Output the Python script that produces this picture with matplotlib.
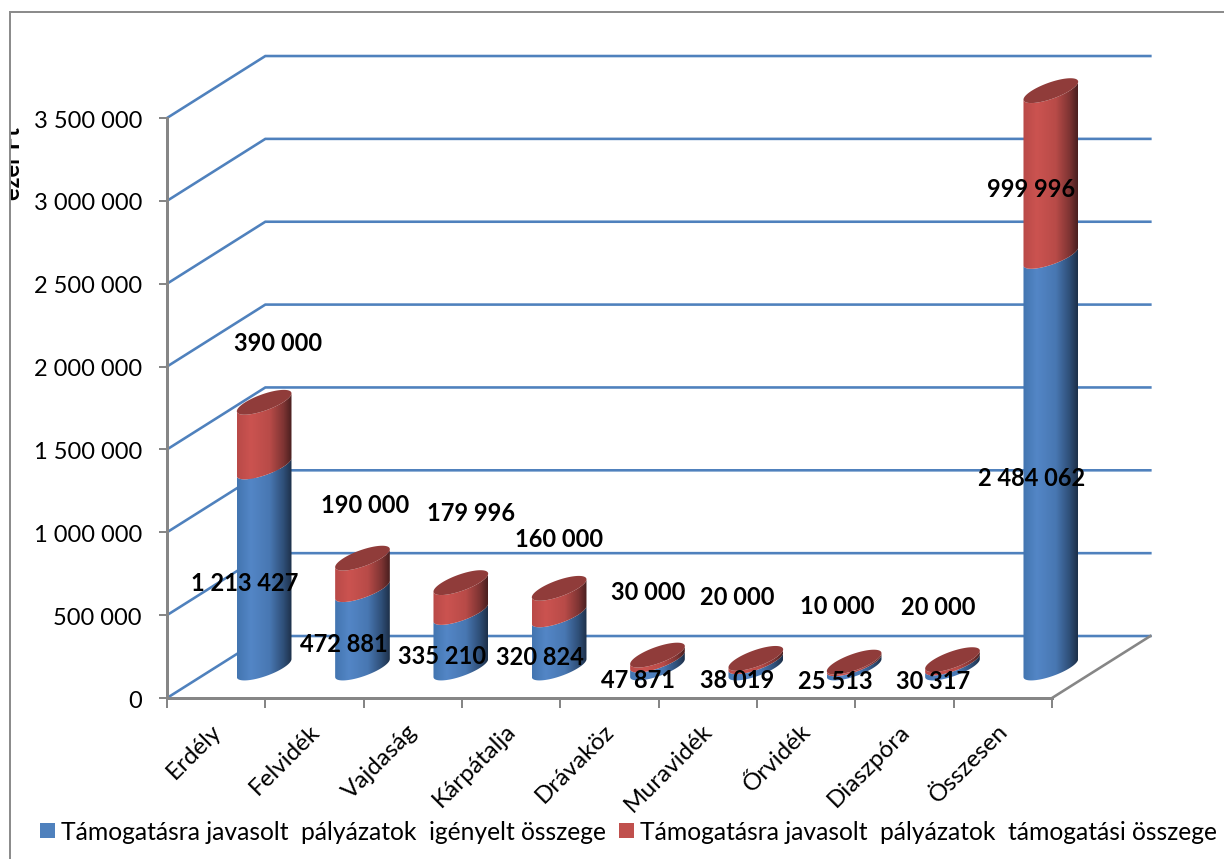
import numpy as np
import matplotlib
matplotlib.use("Agg")
import matplotlib.pyplot as plt
from matplotlib.colors import LinearSegmentedColormap
from matplotlib.lines import Line2D
from matplotlib.patches import Polygon, Patch
from matplotlib.ticker import FuncFormatter
from matplotlib.transforms import Bbox, ScaledTranslation

categories = ["Erdély", "Felvidék", "Vajdaság", "Kárpátalja", "Drávaköz",
              "Muravidék", "Őrvidék", "Diaszpóra", "Összesen"]
igenyelt = [1213427, 472881, 335210, 320824, 47871, 38019, 25513, 30317, 2484062]
tamogatasi = [390000, 190000, 179996, 160000, 30000, 20000, 10000, 20000, 999996]
yticks = [0, 500000, 1000000, 1500000, 2000000, 2500000, 3000000, 3500000]
series_names = ["Támogatásra javasolt  pályázatok  igényelt összege",
                "Támogatásra javasolt  pályázatok  támogatási összege"]

# label offsets (pixels) from the middle of each cylinder segment
blue_off = [(-19, -16)] * 9
red_off = [(14, 91), (3, 68), (10, 84), (0, 62), (-9, 65), (-19, 63), (-17, 56), (-14, 54), (-20, -16)]

FONT = "Lato"
W, H = 1224, 859
DPI = 100
PT = 72 / DPI
FS = 17.0
plt.rcParams["font.family"] = [FONT, "DejaVu Sans"]
GRID = "#4F81BD"
AXC = "#868686"

fig = plt.figure(figsize=(W / DPI, H / DPI), dpi=DPI, facecolor="white")
ax = fig.add_axes([167 / W, (H - 698) / H, 885 / W, 580 / H])
ax.patch.set_alpha(0)

YMAX = 3500000
DX, DY = 1.0, 374000            # depth of the pseudo-3D box
A = 0.278                       # cylinder half width (categories)
B, S = 52000, 54000             # ellipse half height and shear (value units)

for s in ("top", "right"):
    ax.spines[s].set_visible(False)
for s in ("left", "bottom"):
    ax.spines[s].set_color(AXC)
    ax.spines[s].set_linewidth(3.0 * PT)

for v in yticks:
    ax.plot([0, DX, 9 + DX], [v, v + DY, v + DY], color=GRID, lw=2.6 * PT,
            clip_on=False, zorder=1, solid_joinstyle="miter")
ax.plot([9, 9 + DX], [0, DY], color=AXC, lw=2.6 * PT, clip_on=False, zorder=1)

blue_cm = LinearSegmentedColormap.from_list(
    "b", [(0, "#4375B0"), (0.25, "#5386C6"), (0.6, "#4877B2"), (0.85, "#2F4F78"), (1, "#1D3049")])
red_cm = LinearSegmentedColormap.from_list(
    "r", [(0, "#B94A48"), (0.25, "#CB5350"), (0.6, "#B84B48"), (0.85, "#7E3433"), (1, "#491F1F")])
grad = np.linspace(0, 1, 128).reshape(1, -1)
T = np.linspace(0, np.pi, 50)


def arc(cx, base):
    return cx + A * np.cos(T), base - B * np.sin(T) + S * np.cos(T)


def body(cx, y0, y1, cmap, z):
    xb, yb = arc(cx, y0)
    xt, yt = arc(cx, y1)
    poly = Polygon(np.r_[np.c_[xb, yb], np.c_[xt[::-1], yt[::-1]]], closed=True,
                   transform=ax.transData, facecolor="none", edgecolor="none")
    ax.add_patch(poly)
    poly.set_clip_on(False)
    im = ax.imshow(grad, cmap=cmap, aspect="auto", zorder=z, interpolation="bilinear",
                   extent=(cx - A, cx + A, y0 - 2 * S, y1 + 2 * S))
    im.set_clip_box(fig.bbox)
    im.set_clip_path(poly)


for i, (b, r) in enumerate(zip(igenyelt, tamogatasi)):
    cx = i + 0.5 + DX / 2 - 0.012
    y0 = DY / 2 - 6000
    z = 2 + i * 0.01
    body(cx, y0, y0 + b, blue_cm, z)
    body(cx, y0 + b, y0 + b + r, red_cm, z + 0.001)
    t = np.linspace(0, 2 * np.pi, 100)
    ax.fill(cx + A * np.cos(t), y0 + b + r + B * np.sin(t) + S * np.cos(t),
            color="#903C3A", zorder=z + 0.002, clip_on=False, lw=0)

    ax.annotate(f"{b:,}".replace(",", " "), (cx, y0 + b / 2),
                xytext=(blue_off[i][0] * PT, blue_off[i][1] * PT), textcoords="offset points",
                ha="center", va="center", fontsize=FS, fontweight="bold", color="black",
                zorder=6, annotation_clip=False)
    ax.annotate(f"{r:,}".replace(",", " "), (cx, y0 + b + r / 2),
                xytext=(red_off[i][0] * PT, red_off[i][1] * PT), textcoords="offset points",
                ha="center", va="center", fontsize=FS, fontweight="bold", color="black",
                zorder=6, annotation_clip=False)

ax.set_xlim(0, 9)
ax.set_ylim(0, YMAX)
ax.set_yticks(yticks)
ax.yaxis.set_major_formatter(FuncFormatter(lambda v, _: f"{int(v):,}".replace(",", " ")))
ax.set_xticks(np.arange(10))
ax.set_xticklabels([])
ax.set_xticks(np.arange(9) + 0.5, categories, minor=True)
ax.tick_params(axis="x", which="major", length=10 * PT, width=2 * PT, color=AXC)
ax.tick_params(axis="x", which="minor", length=0, pad=30 * PT, labelsize=17.5)
ax.tick_params(axis="y", length=8 * PT, width=2 * PT, color=AXC, pad=17 * PT, labelsize=FS)

xshift = ScaledTranslation(1.5 / DPI, 0, fig.dpi_scale_trans)
for lab in ax.get_xticklabels(minor=True):
    lab.set_rotation(45)
    lab.set_ha("right")
    lab.set_va("center")
    lab.set_rotation_mode("anchor")
    lab.set_transform(lab.get_transform() + xshift)
yshift = ScaledTranslation(0, -1 / DPI, fig.dpi_scale_trans)
for lab in ax.get_yticklabels():
    lab.set_transform(lab.get_transform() + yshift)

# outer frame
for xs, ys in (([10, 10], [12, H]), ([10, W], [12, 12])):
    fig.add_artist(Line2D(np.array(xs) / W, 1 - np.array(ys) / H, color="#8C8C8C",
                          lw=2 * PT, transform=fig.transFigure))

# axis title, cut off by the chart frame
yl = fig.text(13 / W, 1 - 164 / H, "ezer Ft", rotation=90, ha="center", va="center",
              fontsize=FS, fontweight="bold", color="black")
yl.set_clip_on(True)
yl.set_clip_box(Bbox([[11, 0], [W, H - 128]]))

handles = [Patch(facecolor="#4F81BD", label=series_names[0]),
           Patch(facecolor="#C0504D", label=series_names[1])]
LFS = 17.75
fpx = LFS / PT
fig.legend(handles=handles, ncols=2, frameon=False, fontsize=LFS,
           loc="center left", bbox_to_anchor=(40 / W, 1 - 832 / H), borderaxespad=0, borderpad=0,
           handlelength=15 / fpx, handleheight=14 / fpx, handletextpad=6 / fpx, columnspacing=13 / fpx)

fig.savefig("out.png", dpi=DPI)
